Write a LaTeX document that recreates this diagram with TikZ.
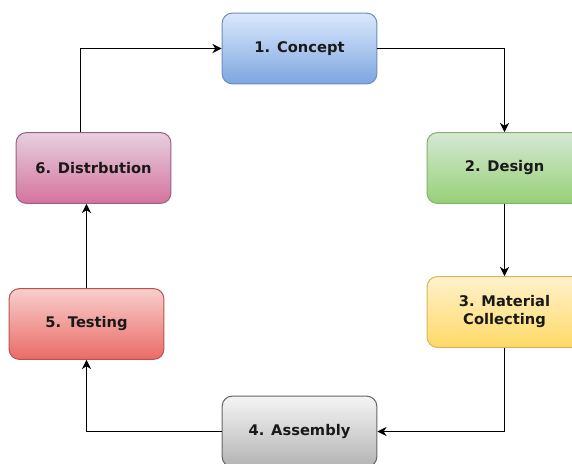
\documentclass[tikz,border=0pt]{standalone}
\usepackage{fontspec}
\setmainfont{DejaVu Sans}
\usetikzlibrary{arrows.meta}
\definecolor{blueTop}{HTML}{DAE8FC}\definecolor{blueBot}{HTML}{7EA6E0}\definecolor{blueLine}{HTML}{6C8EBF}
\definecolor{greenTop}{HTML}{D5E8D4}\definecolor{greenBot}{HTML}{97D077}\definecolor{greenLine}{HTML}{82B366}
\definecolor{yellowTop}{HTML}{FFF2CC}\definecolor{yellowBot}{HTML}{FFD966}\definecolor{yellowLine}{HTML}{D6B656}
\definecolor{grayTop}{HTML}{F5F5F5}\definecolor{grayBot}{HTML}{B3B3B3}\definecolor{grayLine}{HTML}{666666}
\definecolor{redTop}{HTML}{F8CECC}\definecolor{redBot}{HTML}{EA6B66}\definecolor{redLine}{HTML}{B85450}
\definecolor{pinkTop}{HTML}{E6D0DE}\definecolor{pinkBot}{HTML}{D5739D}\definecolor{pinkLine}{HTML}{996185}
\begin{document}
\begin{tikzpicture}[x=0.75pt,y=-0.75pt,>={Stealth[length=7pt,width=7pt]},line width=0.75pt,
    stage/.style={rounded corners=7.5pt,minimum width=116pt,minimum height=53pt,align=center,
        inner sep=2pt,font=\bfseries\fontsize{11}{13.5}\selectfont,text=black!90}]
    %\draw [color=gray,dash pattern=on 1pt off 1pt,step=50] (0,0) grid (572,464);
    \useasboundingbox (0,0) rectangle (572,464);
    \clip (0,0) rectangle (572,464);
    \node[stage,draw=blueLine,top color=blueTop,bottom color=blueBot] (concept) at (299.5,48.5) {1. Concept};
    \node[stage,draw=greenLine,top color=greenTop,bottom color=greenBot] (design) at (504.5,168) {2. Design};
    \node[stage,draw=yellowLine,top color=yellowTop,bottom color=yellowBot] (material) at (504.5,312) {3. Material\\Collecting};
    \node[stage,draw=grayLine,top color=grayTop,bottom color=grayBot] (assembly) at (299.5,431.5) {4. Assembly};
    \node[stage,draw=redLine,top color=redTop,bottom color=redBot] (testing) at (86.5,324) {5. Testing};
    \node[stage,draw=pinkLine,top color=pinkTop,bottom color=pinkBot] (distribution) at (93.5,168) {6. Distrbution};
    \draw[->] (concept.east) -| (design.north);
    \draw[->] (design.south) -- (material.north);
    \draw[->] (material.south) |- (assembly.east);
    \draw[->] (assembly.west) -| (testing.south);
    \draw[->] (testing.north) -- (testing.north |- distribution.south);
    \draw[->] ([xshift=-10pt]distribution.north) |- (concept.west);
\end{tikzpicture}
\end{document}
